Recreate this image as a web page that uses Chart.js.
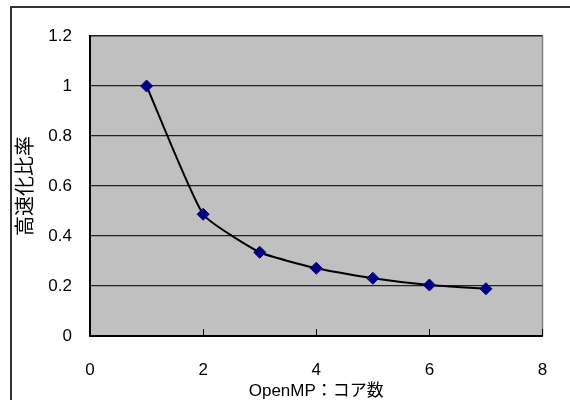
<!DOCTYPE html>
<html>
<head>
<meta charset="utf-8">
<script src="https://cdn.jsdelivr.net/npm/chart.js@4"></script>
<style>
  body { margin: 0; background: #fff; }
  #wrap { width: 570px; height: 400px; }
</style>
</head>
<body>
<div id="wrap"><canvas id="myChart" width="570" height="400"></canvas></div>
<script>
// cores vs speed-up ratio
const cores = [1, 2, 3, 4, 5, 6, 7];
const speedupRatio = [1, 0.487, 0.335, 0.271, 0.231, 0.204, 0.189];
const xTicks = [0, 2, 4, 6, 8];
const yTicks = [0, 0.2, 0.4, 0.6, 0.8, 1, 1.2];

const fontFamily = "'Liberation Sans', 'Noto Sans CJK JP', sans-serif";

// gray plot area, gray top/right edge, outer frame
const plotBg = {
    id: 'plotBg',
    beforeDraw(chart) {
        const { ctx, chartArea: a } = chart;
        ctx.save();
        ctx.fillStyle = '#fff';
        ctx.fillRect(0, 0, chart.width, chart.height);
        ctx.strokeStyle = '#333';
        ctx.lineWidth = 2;
        ctx.strokeRect(11, 7, chart.width + 20, chart.height + 20);
        ctx.fillStyle = '#c0c0c0';
        ctx.fillRect(a.left, a.top, a.right - a.left, a.bottom - a.top);
        ctx.strokeStyle = '#808080';
        ctx.lineWidth = 1.5;
        ctx.beginPath();
        ctx.moveTo(a.left, a.top);
        ctx.lineTo(a.right, a.top);
        ctx.lineTo(a.right, a.bottom);
        ctx.stroke();
        ctx.restore();
    }
};

const ctx = document.getElementById('myChart').getContext('2d');
new Chart(ctx, {
    type: 'scatter',
    data: {
        datasets: [{
            data: cores.map((c, i) => ({ x: c, y: speedupRatio[i] })),
            showLine: true,
            borderColor: '#000',
            borderWidth: 2,
            tension: 0.15,
            pointStyle: 'rectRot',
            pointRadius: 6,
            pointHoverRadius: 6,
            pointBackgroundColor: '#000080',
            pointBorderColor: '#000080',
            pointBorderWidth: 1
        }]
    },
    options: {
        responsive: false,
        animation: false,
        layout: { padding: { left: 0, top: 36, right: 27.5, bottom: 0 } },
        plugins: {
            legend: { display: false },
            tooltip: { enabled: false }
        },
        scales: {
            x: {
                type: 'linear',
                min: 0,
                max: 8,
                afterBuildTicks: scale => { scale.ticks = xTicks.map(v => ({ value: v })); },
                afterFit: scale => {
                    scale.height = 64;
                    scale.paddingLeft = 0;
                    scale.paddingRight = 0;
                },
                grid: {
                    drawOnChartArea: false,
                    drawTicks: true,
                    tickLength: -7,
                    color: '#000',
                    lineWidth: 1
                },
                border: { color: '#000', width: 2 },
                ticks: {
                    padding: 31,
                    color: '#000',
                    font: { family: fontFamily, size: 17 }
                },
                title: {
                    display: true,
                    text: 'OpenMP：コア数',
                    color: '#000',
                    padding: { top: 0, bottom: -2 },
                    font: { family: fontFamily, size: 17 }
                }
            },
            y: {
                min: 0,
                max: 1.2,
                afterBuildTicks: scale => { scale.ticks = yTicks.map(v => ({ value: v })); },
                afterFit: scale => {
                    scale.width = 90;
                    scale.paddingTop = 0;
                    scale.paddingBottom = 0;
                },
                grid: {
                    drawTicks: false,
                    color: '#222',
                    lineWidth: 1.2
                },
                border: { color: '#000', width: 2 },
                ticks: {
                    padding: 18,
                    color: '#000',
                    font: { family: fontFamily, size: 17 },
                    callback: v => String(Math.round(v * 10) / 10)
                },
                title: {
                    display: true,
                    text: '高速化比率',
                    color: '#000',
                    padding: { top: 14, bottom: 0 },
                    font: { family: fontFamily, size: 20 }
                }
            }
        }
    },
    plugins: [plotBg]
});
</script>
</body>
</html>
